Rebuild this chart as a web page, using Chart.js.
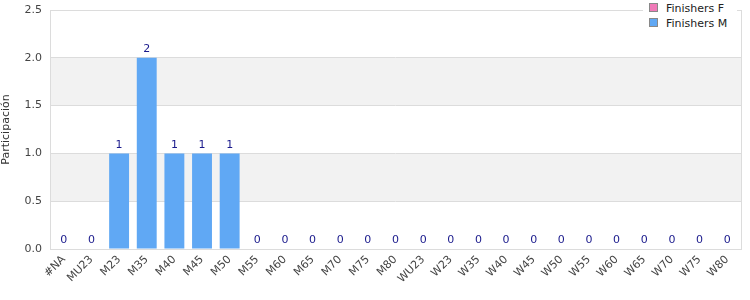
<!DOCTYPE html>
<html><head><meta charset="utf-8">
<script src="https://cdn.jsdelivr.net/npm/chart.js@4"></script>
<style>
html,body{margin:0;padding:0;background:#fff;}
#wrap{position:relative;width:750px;height:300px;}
#legend{position:absolute;left:643px;top:0;width:94px;height:32px;background:#fff;font:11px 'DejaVu Sans',sans-serif;color:#222;}
.li{position:absolute;left:6px;height:13px;line-height:13px;}
.sw{display:inline-block;width:7px;height:7px;border:1px solid #888;margin-right:8px;vertical-align:0px;}
</style></head>
<body>
<div id="wrap"><canvas id="c" width="750" height="300"></canvas>
<div id="legend">
<div class="li" style="top:2px"><span class="sw" style="background:#f07ab8"></span>Finishers F</div>
<div class="li" style="top:17px"><span class="sw" style="background:#60a8f4"></span>Finishers M</div>
</div></div>
<script>
const categories = ['#NA','MU23','M23','M35','M40','M45','M50','M55','M60','M65','M70','M75','M80','WU23','W23','W35','W40','W45','W50','W55','W60','W65','W70','W75','W80'];
const finishersM = [0,0,1,2,1,1,1,0,0,0,0,0,0,0,0,0,0,0,0,0,0,0,0,0,0];
const finishersF = [null,null,null,null,null,null,null,null,null,null,null,null,null,null,null,null,null,null,null,null,null,null,null,null,null];
const yTicks = [0,0.5,1,1.5,2,2.5];

const bgPlugin = {
  id:'bg',
  beforeDraw(chart){
    const {ctx, chartArea:a, scales:{y}} = chart;
    ctx.save();
    ctx.fillStyle = '#f2f2f2';
    for (let i=1;i<yTicks.length-1;i+=2){
      const t = y.getPixelForValue(yTicks[i+1]), b = y.getPixelForValue(yTicks[i]);
      ctx.fillRect(a.left, t, a.right-a.left, b-t);
    }
    ctx.restore();
  },
  afterDraw(chart){
    const {ctx, chartArea:a} = chart;
    ctx.save();
    ctx.strokeStyle = '#dcdcdc'; ctx.lineWidth = 1;
    ctx.strokeRect(Math.round(a.left)+0.5, Math.round(a.top)+0.5, Math.round(a.right-a.left), Math.round(a.bottom-a.top));
    const meta = chart.getDatasetMeta(1);
    ctx.fillStyle = '#1a1a8c';
    ctx.font = "11px 'DejaVu Sans'";
    ctx.textAlign = 'center'; ctx.textBaseline = 'bottom';
    meta.data.forEach((bar,i)=>{
      const v = finishersM[i];
      if (v==null) return;
      ctx.fillText(String(v), bar.x, bar.y-3);
    });
    ctx.restore();
  }
};

new Chart(document.getElementById('c'), {
  type:'bar',
  data:{
    labels: categories,
    datasets:[
      {label:'Finishers F', data:finishersF, backgroundColor:'#f07ab8'},
      {label:'Finishers M', data:finishersM, backgroundColor:'#60a8f4'}
    ]
  },
  options:{
    responsive:false, animation:false,
    layout:{padding:{left:0,right:9,top:0,bottom:0}},
    datasets:{bar:{barPercentage:0.72,categoryPercentage:1.0}},
    plugins:{legend:{display:false}, tooltip:{enabled:false}},
    scales:{
      x:{
        stacked:true,
        grid:{display:false, drawTicks:false},
        border:{display:false},
        ticks:{color:'#444', font:{family:'DejaVu Sans', size:11}, maxRotation:45, minRotation:45, autoSkip:false, padding:4},
        afterFit(s){ s.height = 51; }
      },
      y:{
        min:0, max:2.5,
        grid:{color:'#dcdcdc', drawTicks:false},
        border:{display:false},
        ticks:{stepSize:0.5, color:'#444', font:{family:'DejaVu Sans', size:11}, padding:8, callback:v=>v.toFixed(1)},
        title:{display:true, text:'Participación', color:'#333', font:{family:'DejaVu Sans', size:11}, padding:{top:0,bottom:6}},
        afterFit(s){ s.width = 50; s.paddingTop = 10; }
      }
    }
  },
  plugins:[bgPlugin]
});
</script>
</body></html>
